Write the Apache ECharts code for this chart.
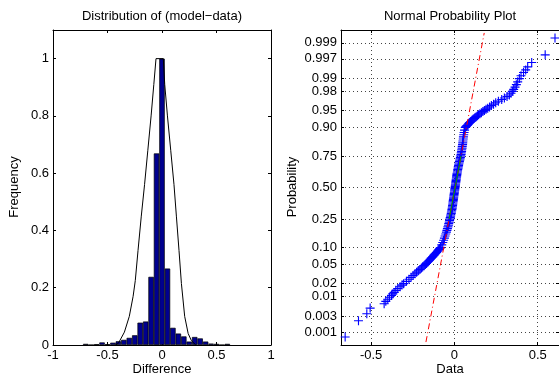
<!DOCTYPE html>
<html><head><meta charset="utf-8">
<script src="https://cdn.jsdelivr.net/npm/echarts@6/dist/echarts.min.js"></script>
<style>html,body{margin:0;padding:0;background:#fff}#c{width:559px;height:376px}</style>
</head><body><div id="c"></div>
<script>
// ---- Left panel: histogram of (model - data) ----
const histBinCenters = [-0.70,-0.65,-0.60,-0.55,-0.50,-0.45,-0.40,-0.35,-0.30,-0.25,-0.20,-0.15,-0.10,-0.05,0.00,0.05,0.10,0.15,0.20,0.25,0.30,0.35,0.40,0.45,0.50,0.55,0.60];
const histFrequency  = [0.004,0,0.003,0.009,0.003,0.008,0.013,0.018,0.025,0.034,0.078,0.082,0.238,0.669,1.0,0.267,0.06,0.04,0.03,0.012,0.028,0.023,0.012,0.005,0.004,0,0.004];
const curveX = [-0.43,-0.40,-0.345,-0.30,-0.265,-0.245,-0.22,-0.19,-0.16,-0.13,-0.10,-0.075,-0.055,0.012,0.025,0.05,0.08,0.11,0.132,0.156,0.178,0.208,0.24,0.27,0.31];
const curveY = [0,0.006,0.045,0.10,0.17,0.225,0.33,0.45,0.56,0.68,0.80,0.91,1.0,1.0,0.91,0.80,0.68,0.56,0.45,0.33,0.215,0.10,0.04,0.015,0];
const diffTicks = [-1,-0.5,0,0.5,1];
const freqTicks = [0,0.2,0.4,0.6,0.8,1];

// ---- Right panel: normal probability plot ----
const dataTicks = [-0.5,0,0.5];
const probTickValues = [0.001,0.003,0.01,0.02,0.05,0.10,0.25,0.50,0.75,0.90,0.95,0.98,0.99,0.997,0.999];
const probTickLabels = ['0.001','0.003','0.01','0.02','0.05','0.10','0.25','0.50','0.75','0.90','0.95','0.98','0.99','0.997','0.999'];
const sampleP = [0.0007,0.0022,0.0035,0.005,0.0065,0.0075,0.0085,0.0095,0.0105,0.0115,0.0125,0.014,0.0155,0.017,0.0185,0.02,0.0225,0.025,0.0275,0.03,0.0325,0.035,0.0375,0.04,0.0425,0.045,0.0475,
0.05,0.0525,0.055,0.0575,0.06,0.0625,0.065,0.0675,0.07,0.0725,0.075,0.0775,0.08,0.0825,0.085,0.0875,0.09,0.0925,0.095,0.0975,
0.10,0.11,0.12,0.13,0.14,0.15,0.16,0.17,0.18,0.19,0.20,0.21,0.22,0.23,0.24,0.25,0.26,0.27,0.28,0.29,0.30,0.31,0.32,0.33,0.34,0.35,0.36,0.37,0.38,0.39,0.40,
0.41,0.42,0.43,0.44,0.45,0.46,0.47,0.48,0.49,0.50,0.51,0.52,0.53,0.54,0.55,0.56,0.57,0.58,0.59,0.60,0.61,0.62,0.63,0.64,0.65,0.66,0.67,0.68,0.69,0.70,
0.71,0.72,0.73,0.74,0.75,0.76,0.77,0.78,0.79,0.80,0.81,0.82,0.83,0.84,0.85,0.86,0.87,0.88,0.89,0.90,
0.9025,0.905,0.9075,0.91,0.9125,0.915,0.9175,0.92,0.9225,0.925,0.9275,0.93,0.9325,0.935,0.9375,0.94,0.9425,0.945,0.9475,0.95,
0.9525,0.955,0.9575,0.96,0.9625,0.965,0.9675,0.97,0.972,0.974,0.976,0.978,0.98,0.982,0.984,0.986,0.988,0.99,0.9915,0.993,0.994,0.995,0.9962,0.9977,0.9993];
const sampleX = [-0.656,-0.576,-0.526,-0.506,-0.422,-0.412,-0.40,-0.39,-0.378,-0.37,-0.362,-0.352,-0.34,-0.326,-0.315,-0.305,-0.288,-0.273,-0.26,-0.248,-0.237,-0.227,-0.217,-0.207,-0.198,-0.19,-0.182,
-0.175,-0.168,-0.161,-0.155,-0.15,-0.145,-0.14,-0.135,-0.13,-0.125,-0.121,-0.116,-0.112,-0.108,-0.104,-0.1,-0.097,-0.093,-0.09,-0.086,
-0.083,-0.076,-0.07,-0.065,-0.06,-0.056,-0.052,-0.048,-0.045,-0.042,-0.039,-0.036,-0.034,-0.031,-0.029,-0.027,-0.025,-0.023,-0.021,-0.019,-0.018,-0.016,-0.015,-0.013,-0.012,-0.011,-0.01,-0.009,-0.008,-0.007,-0.006,
-0.005,-0.004,-0.003,-0.002,-0.001,0,0.001,0.002,0.003,0.004,0.005,0.006,0.007,0.008,0.009,0.01,0.011,0.012,0.013,0.014,0.015,0.016,0.018,0.019,0.02,0.022,0.023,0.025,0.026,0.028,
0.03,0.032,0.034,0.036,0.038,0.04,0.041,0.043,0.044,0.046,0.047,0.049,0.05,0.051,0.053,0.054,0.056,0.058,0.061,0.065,
0.068,0.072,0.076,0.08,0.084,0.088,0.092,0.097,0.102,0.107,0.112,0.118,0.124,0.131,0.138,0.145,0.153,0.162,0.171,0.18,
0.19,0.2,0.211,0.222,0.235,0.248,0.264,0.284,0.3,0.316,0.33,0.34,0.348,0.356,0.364,0.372,0.38,0.39,0.40,0.415,0.428,0.44,0.464,0.545,0.604];
const refLineX = [-0.171, 0.179];
const refLineP = [0.00048, 0.99952];
const quartLineX = [-0.032, 0.040];
const quartLineP = [0.25, 0.75];

// inverse normal CDF (probability-paper scale)
function probit(p){
  const a=[-3.969683028665376e+01,2.209460984245205e+02,-2.759285104469687e+02,1.383577518672690e+02,-3.066479806614716e+01,2.506628277459239e+00];
  const b=[-5.447609879822406e+01,1.615858368580409e+02,-1.556989798598866e+02,6.680131188771972e+01,-1.328068155288572e+01];
  const c=[-7.784894002430293e-03,-3.223964580411365e-01,-2.400758277161838e+00,-2.549732539343734e+00,4.374664141464968e+00,2.938163982698783e+00];
  const d=[7.784695709041462e-03,3.224671290700398e-01,2.445134137142996e+00,3.754408661907416e+00];
  const pl=0.02425, ph=1-pl; let q,r;
  if(p<pl){q=Math.sqrt(-2*Math.log(p));return (((((c[0]*q+c[1])*q+c[2])*q+c[3])*q+c[4])*q+c[5])/((((d[0]*q+d[1])*q+d[2])*q+d[3])*q+1);}
  if(p<=ph){q=p-0.5;r=q*q;return (((((a[0]*r+a[1])*r+a[2])*r+a[3])*r+a[4])*r+a[5])*q/(((((b[0]*r+b[1])*r+b[2])*r+b[3])*r+b[4])*r+1);}
  q=Math.sqrt(-2*Math.log(1-p));return -(((((c[0]*q+c[1])*q+c[2])*q+c[3])*q+c[4])*q+c[5])/((((d[0]*q+d[1])*q+d[2])*q+d[3])*q+1);
}
const probTickZ = probTickValues.map(probit);
function probLabel(v){ for(let i=0;i<probTickZ.length;i++){ if(Math.abs(probTickZ[i]-v)<1e-6) return probTickLabels[i]; } return ''; }

const FONT = '"Liberation Sans", Arial, Helvetica, sans-serif';
const FS = 13;
const lblStyle = {color:'#000', fontSize:FS, fontFamily:FONT};
const lineStyle = {color:'#000', width:1};
const ZMIN = -3.365, ZMAX = 3.365, XMIN2 = -0.681, XMAX2 = 0.628;

function xAx(grid, pos, min, max, ticks, showLabel, split){
  return {type:'value', gridIndex:grid, position:pos, min:min, max:max,
    axisLine:{show:true, onZero:false, lineStyle:lineStyle},
    axisTick:{show:true, inside:true, length:3, lineStyle:lineStyle, customValues:ticks},
    axisLabel:{show:showLabel, margin:4, customValues:ticks, ...lblStyle},
    splitLine:{show:!!split, lineStyle:{color:'#444', width:1, type:[1,3]}}};
}
function yAx(grid, pos, min, max, ticks, showLabel, split, fmt){
  const ax = {type:'value', gridIndex:grid, position:pos, min:min, max:max,
    axisLine:{show:true, onZero:false, lineStyle:lineStyle},
    axisTick:{show:true, inside:true, length:3, lineStyle:lineStyle, customValues:ticks},
    axisLabel:{show:showLabel, margin:4, customValues:ticks, ...lblStyle},
    splitLine:{show:!!split, lineStyle:{color:'#444', width:1, type:[1,3]}}};
  if(fmt) ax.axisLabel.formatter = fmt;
  return ax;
}

const plusSymbol = 'path://M3.5,0H4.5V3.5H8V4.5H4.5V8H3.5V4.5H0V3.5H3.5Z';
function txt(x, y, s, rot){
  const o = {type:'text', x:x, y:y, style:{text:s, align:'center', verticalAlign:'middle', textAlign:'center', textVerticalAlign:'middle', font:FS+'px '+FONT, fill:'#000'}};
  if(rot) o.rotation = rot;
  return o;
}

const chart = echarts.init(document.getElementById('c'), null, {renderer:'canvas'});
chart.setOption({
  animation:false,
  backgroundColor:'#fff',
  grid:[
    {left:53, top:30, width:218, height:315},
    {left:341, top:30, width:218, height:315}
  ],
  xAxis:[
    xAx(0,'bottom',-1,1,diffTicks,true,false),
    xAx(0,'top',-1,1,diffTicks,false,false),
    xAx(1,'bottom',XMIN2,XMAX2,dataTicks,true,true),
    xAx(1,'top',XMIN2,XMAX2,dataTicks,false,false)
  ],
  yAxis:[
    yAx(0,'left',0,1.1,freqTicks,true,false),
    yAx(0,'right',0,1.1,freqTicks,false,false),
    yAx(1,'left',ZMIN,ZMAX,probTickZ,true,true,probLabel),
    yAx(1,'right',ZMIN,ZMAX,probTickZ,false,false)
  ],
  series:[
    {type:'bar', xAxisIndex:0, yAxisIndex:0, barWidth:'100%',
     data:histBinCenters.map((x,i)=>[x,histFrequency[i]]),
     itemStyle:{color:'#00008f', borderColor:'#000', borderWidth:0.7}},
    {type:'line', xAxisIndex:0, yAxisIndex:0, showSymbol:false, symbol:'none',
     data:curveX.map((x,i)=>[x,curveY[i]]), lineStyle:{color:'#000', width:1}},
    {type:'scatter', xAxisIndex:2, yAxisIndex:2, symbol:plusSymbol, symbolSize:9,
     data:sampleX.map((x,i)=>[x,probit(sampleP[i])]), itemStyle:{color:'#0000ff', opacity:1}},
    {type:'line', xAxisIndex:2, yAxisIndex:2, symbol:'none',
     data:refLineX.map((x,i)=>[x,probit(refLineP[i])]), lineStyle:{color:'#ff0000', width:1, type:[6,3,1,3]}},
    {type:'line', xAxisIndex:2, yAxisIndex:2, symbol:'none',
     data:quartLineX.map((x,i)=>[x,probit(quartLineP[i])]), lineStyle:{color:'#00a000', width:1}}
  ],
  graphic:[
    txt(162, 16, 'Distribution of (model\u2212data)'),
    txt(450, 16, 'Normal Probability Plot'),
    txt(162, 369, 'Difference'),
    txt(450, 369, 'Data'),
    txt(14, 187, 'Frequency', Math.PI/2),
    txt(292, 187, 'Probability', Math.PI/2)
  ]
});
</script></body></html>
